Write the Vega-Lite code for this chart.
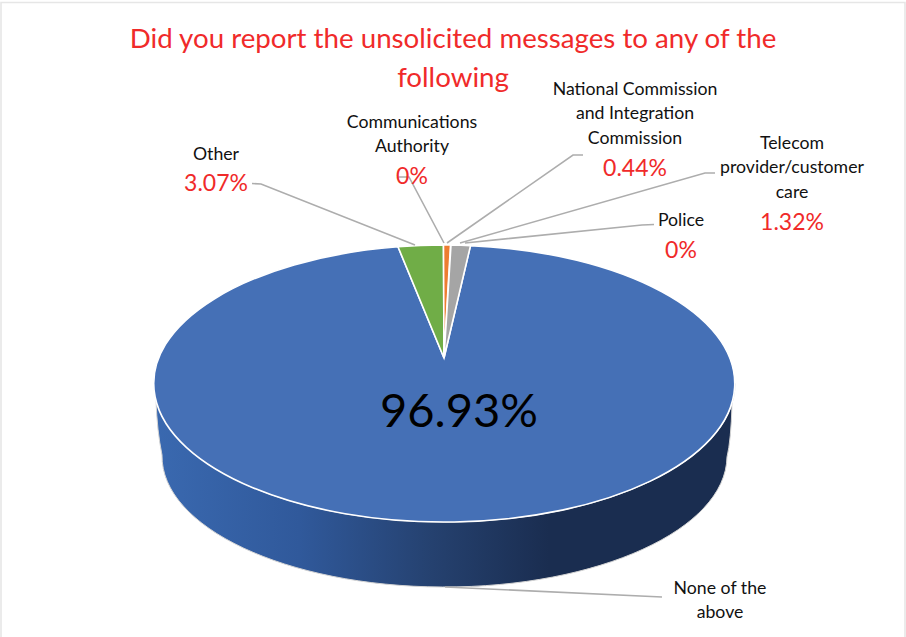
{"$schema":"https://vega.github.io/schema/vega-lite/v6.json","width":906,"height":637,"padding":0,"autosize":{"type":"none"},"background":"white","view":{"stroke":null},
"title":{"text":["Did you report the unsolicited messages to any of the","following"],"font":"Lato","fontSize":27.7,"fontWeight":"normal","color":"#f02a2a","anchor":"middle","lineHeight":39,"offset":0,"dy":93},
"data":{"values":[
{"slice":"None of the above","label":"None of the\nabove","value":0.9693},
{"slice":"Other","label":"Other","value":0.0307},
{"slice":"Communications Authority","label":"Communications\nAuthority","value":0},
{"slice":"National Commission and Integration Commission","label":"National Commission\nand Integration\nCommission","value":0.0044},
{"slice":"Telecom provider/customer care","label":"Telecom\nprovider/customer\ncare","value":0.0132},
{"slice":"Police","label":"Police","value":0}
]},
"resolve":{"scale":{"shape":"independent","color":"independent"}},
"layer":[
{"transform":[{"filter":"datum.slice=='None of the above'"}],
"mark":{"type":"point","filled":false,"opacity":1,"size":4,"stroke":"#e6e6e6","strokeWidth":1.6,"shape":"M-452,318.5 L-452,-316 L452,-316 L452,318.5"},"encoding":{}},
{"transform":[{"filter":"datum.slice=='None of the above'"}],
"mark":{"type":"point","filled":true,"opacity":1,"size":4,"stroke":"#d4d4d4","strokeWidth":1,"shape":"M-299,65 A290.5,138.5 0 0 0 282,65 L279,86 Q278,122 274,138.5 A282.5,131 0 0 1 -291,136.5 Q-296,112 -297,82 Z","fill":{"gradient":"linear","x1":0,"y1":0,"x2":1,"y2":0,"stops":[{"offset":0,"color":"#3a69b0"},{"offset":0.25,"color":"#30599b"},{"offset":0.48,"color":"#25416f"},{"offset":0.68,"color":"#1a2d50"},{"offset":1,"color":"#1a2d50"}]}},"encoding":{}},
{"transform":[{"filter":"datum.value>0"}],
"mark":{"type":"point","filled":true,"opacity":1,"size":4,"stroke":"white","strokeWidth":1.6},
"encoding":{
"shape":{"field":"slice","type":"nominal","legend":null,"scale":{"domain":["None of the above","Other","National Commission and Integration Commission","Telecom provider/customer care"],"range":[
"M-9,39.5 L17.5,-72.9 A290.5,138.5 0 1 1 -55,-71.7 Z",
"M-9,39.5 L-55,-71.7 A290.5,138.5 0 0 1 -9.5,-73.5 Z",
"M-9,39.5 L-9.5,-73.5 L-2.5,-73.5 Z",
"M-9,39.5 L-2,-73.5 A290.5,138.5 0 0 1 17.5,-72.9 Z"]}},
"color":{"field":"slice","type":"nominal","legend":null,"scale":{"domain":["None of the above","Other","National Commission and Integration Commission","Telecom provider/customer care"],"range":["#4570b6","#70ad47","#ed7d31","#a5a5a5"]}}}},
{"mark":{"type":"point","filled":false,"opacity":1,"size":4,"stroke":"#adadad","strokeWidth":1.6},
"encoding":{"shape":{"field":"slice","type":"nominal","legend":null,"scale":{"domain":["None of the above","Other","Communications Authority","National Commission and Integration Commission","Telecom provider/customer care","Police"],"range":[
"M209,278.5 L-8,268.5",
"M-201,-135 L-192,-134.5 L-38,-73.5",
"M-56,-141.5 L-44,-141.5 L-9,-75.5",
"M130,-163.5 L120,-163.5 L-6,-75.5",
"M262,-145.5 L252,-145.5 L7,-75.5",
"M201,-94 L189,-93.5 L12,-75.5"]}}}},
{"transform":[{"filter":"datum.slice=='None of the above'"}],"mark":{"type":"text","font":"Lato","fontSize":17.7,"lineHeight":24.5,"lineBreak":"\n","color":"#111","dx":267,"dy":270,"baseline":"middle"},"encoding":{"text":{"field":"label"}}},
{"transform":[{"filter":"datum.slice=='None of the above'"}],"mark":{"type":"text","font":"Lato","fontSize":47,"color":"#000","dx":6,"dy":94,"baseline":"middle"},"encoding":{"text":{"field":"value","format":".2~%"}}},
{"transform":[{"filter":"datum.slice=='Other'"}],"mark":{"type":"text","font":"Lato","fontSize":17.7,"color":"#111","dx":-237,"dy":-164,"baseline":"middle"},"encoding":{"text":{"field":"label"}}},
{"transform":[{"filter":"datum.slice=='Other'"}],"mark":{"type":"text","font":"Lato","fontSize":23,"color":"#f02a2a","dx":-237,"dy":-134.5,"baseline":"middle"},"encoding":{"text":{"field":"value","format":".2~%"}}},
{"transform":[{"filter":"datum.slice=='Communications Authority'"}],"mark":{"type":"text","font":"Lato","fontSize":17.7,"lineHeight":24.5,"lineBreak":"\n","color":"#111","dx":-41,"dy":-196,"baseline":"middle"},"encoding":{"text":{"field":"label"}}},
{"transform":[{"filter":"datum.slice=='Communications Authority'"}],"mark":{"type":"text","font":"Lato","fontSize":23,"color":"#f02a2a","dx":-41,"dy":-142,"baseline":"middle"},"encoding":{"text":{"field":"value","format":".2~%"}}},
{"transform":[{"filter":"datum.slice=='National Commission and Integration Commission'"}],"mark":{"type":"text","font":"Lato","fontSize":17.7,"lineHeight":24.5,"lineBreak":"\n","color":"#111","dx":182,"dy":-229,"baseline":"middle"},"encoding":{"text":{"field":"label"}}},
{"transform":[{"filter":"datum.slice=='National Commission and Integration Commission'"}],"mark":{"type":"text","font":"Lato","fontSize":23,"color":"#f02a2a","dx":182,"dy":-150,"baseline":"middle"},"encoding":{"text":{"field":"value","format":".2~%"}}},
{"transform":[{"filter":"datum.slice=='Telecom provider/customer care'"}],"mark":{"type":"text","font":"Lato","fontSize":17.7,"lineHeight":24.5,"lineBreak":"\n","color":"#111","dx":339,"dy":-175,"baseline":"middle"},"encoding":{"text":{"field":"label"}}},
{"transform":[{"filter":"datum.slice=='Telecom provider/customer care'"}],"mark":{"type":"text","font":"Lato","fontSize":23,"color":"#f02a2a","dx":339,"dy":-96,"baseline":"middle"},"encoding":{"text":{"field":"value","format":".2~%"}}},
{"transform":[{"filter":"datum.slice=='Police'"}],"mark":{"type":"text","font":"Lato","fontSize":17.7,"color":"#111","dx":228,"dy":-98,"baseline":"middle"},"encoding":{"text":{"field":"label"}}},
{"transform":[{"filter":"datum.slice=='Police'"}],"mark":{"type":"text","font":"Lato","fontSize":23,"color":"#f02a2a","dx":228,"dy":-68,"baseline":"middle"},"encoding":{"text":{"field":"value","format":".2~%"}}}
]}
